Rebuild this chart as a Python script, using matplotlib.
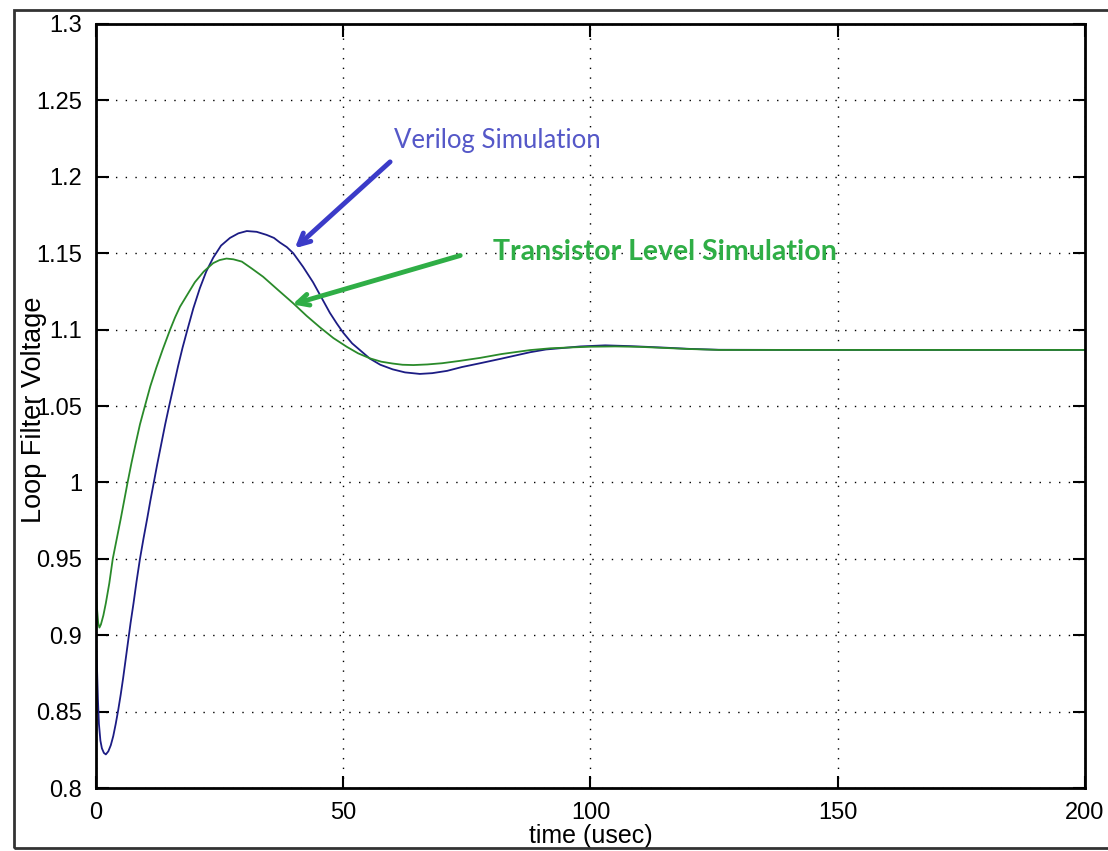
import matplotlib
matplotlib.use("Agg")
import matplotlib.pyplot as plt
from matplotlib.patches import Rectangle

# Verilog simulation
t_verilog = [0, 0.2, 0.4, 0.6, 0.9, 1.2, 1.6, 2.0, 2.5, 3.0, 3.5, 4.0, 4.5, 5.0,
             5.5, 6.0, 6.5, 7.0, 7.6, 8.2, 8.9, 9.6, 10.4, 11.0, 11.7, 12.4, 13.2,
             14.0, 14.8, 15.7, 16.6, 17.5, 18.5, 19.7, 21.0, 22.3, 23.7, 25.3, 27.1,
             28.8, 30.5, 32.5, 34.5, 36.0, 37.2, 38.6, 39.9, 41.9, 43.9, 45.6, 47.3,
             48.7, 50.0, 51.8, 53.6, 55.4, 57.5, 60.0, 62.5, 65.5, 68.0, 71.0, 74.0,
             77.7, 82.0, 87.8, 91.0, 94.5, 98.0, 103.0, 108.0, 115.0, 120.0, 126.0,
             140.0, 200.0]
v_verilog = [0.900, 0.880, 0.858, 0.842, 0.831, 0.826, 0.823, 0.822, 0.824, 0.828,
             0.834, 0.842, 0.851, 0.861, 0.872, 0.884, 0.896, 0.908, 0.921, 0.935,
             0.950, 0.963, 0.977, 0.988, 1.000, 1.012, 1.025, 1.038, 1.050, 1.063,
             1.076, 1.088, 1.100, 1.114, 1.127, 1.138, 1.147, 1.155, 1.160, 1.163,
             1.1645, 1.164, 1.162, 1.160, 1.157, 1.154, 1.150, 1.141, 1.131, 1.121,
             1.111, 1.104, 1.098, 1.091, 1.086, 1.081, 1.077, 1.074, 1.072, 1.071,
             1.0715, 1.073, 1.0755, 1.078, 1.081, 1.0852, 1.087, 1.088, 1.089,
             1.0897, 1.0892, 1.0882, 1.0874, 1.0868, 1.0867, 1.0867]

# Transistor level simulation
t_transistor = [0, 0.2, 0.45, 0.7, 1.0, 1.5, 2.0, 2.7, 3.4, 4.2, 5.0, 5.7, 6.4, 7.2,
                8.0, 8.9, 9.9, 11.0, 12.2, 13.5, 15.0, 16.0, 17.0, 18.5, 20.0, 21.8,
                23.7, 25.0, 26.4, 27.8, 29.5, 31.5, 33.8, 36.8, 39.9, 42.6, 45.3,
                48.0, 50.7, 53.0, 55.4, 57.7, 60.0, 62.0, 64.2, 67.0, 70.0, 73.5,
                77.7, 82.0, 87.8, 92.0, 96.5, 100.0, 105.0, 110.0, 115.0, 120.0,
                126.0, 140.0, 200.0]
v_transistor = [0.931, 0.918, 0.908, 0.905, 0.907, 0.913, 0.921, 0.934, 0.950, 0.963,
                0.976, 0.988, 1.000, 1.013, 1.025, 1.038, 1.050, 1.063, 1.075, 1.087,
                1.100, 1.108, 1.115, 1.123, 1.131, 1.138, 1.1435, 1.1455, 1.1465,
                1.146, 1.1445, 1.140, 1.1346, 1.126, 1.1172, 1.109, 1.1015, 1.0945,
                1.0888, 1.0845, 1.0812, 1.079, 1.0778, 1.077, 1.0768, 1.0772, 1.078,
                1.0795, 1.0815, 1.084, 1.0866, 1.0878, 1.0884, 1.0888, 1.0890,
                1.0887, 1.0880, 1.0873, 1.0867, 1.0867, 1.0867]

x_ticks = [0, 50, 100, 150, 200]
y_ticks = [0.8, 0.85, 0.9, 0.95, 1.0, 1.05, 1.1, 1.15, 1.2, 1.25, 1.3]
y_labels = ['0.8', '0.85', '0.9', '0.95', '1', '1.05', '1.1', '1.15', '1.2', '1.25', '1.3']

plt.rcParams['font.family'] = ['Liberation Sans', 'DejaVu Sans']

fig = plt.figure(figsize=(11.08, 8.51), dpi=100)
ax = fig.add_axes([0.0866, 0.0740, 0.8926, 0.8978])

# outer frame of the screenshot
fig.patches.append(Rectangle((14 / 1108, 3 / 851), 1.2, 838 / 851, transform=fig.transFigure,
                             fill=False, edgecolor='#333333', linewidth=2, zorder=0))

ax.plot(t_verilog, v_verilog, color='#1c1c84', linewidth=1.3)
ax.plot(t_transistor, v_transistor, color='#2a8a2a', linewidth=1.3)

ax.set_xlim(0, 200)
ax.set_ylim(0.8, 1.3)
ax.set_xticks(x_ticks)
ax.set_yticks(y_ticks)
ax.set_yticklabels(y_labels)
ax.grid(True, color='black', linestyle=(0, (1, 6)), linewidth=1.0)
ax.tick_params(direction='in', length=9, width=1.5, labelsize=17, pad=10,
               top=True, right=True)
for s in ax.spines.values():
    s.set_linewidth(2)

ax.set_xlabel('time (usec)', fontsize=18, labelpad=0)
ax.xaxis.set_label_coords(0.5, -0.047)
ax.set_ylabel('Loop Filter Voltage', fontsize=19.5)
ax.yaxis.set_label_coords(-0.050, 0.495)

# hand-drawn style annotations
ax.annotate('', xy=(39.8, 1.152), xytext=(59.9, 1.211),
            arrowprops=dict(arrowstyle='->,head_length=0.8,head_width=0.4',
                            color='#3b3bc8', linewidth=3.5))
ax.text(60.3, 1.224, 'Verilog Simulation', color='#5558c8', fontsize=18.5,
        family=['Lato', 'DejaVu Sans'], va='center', ha='left')
ax.annotate('', xy=(39.2, 1.116), xytext=(74.2, 1.149),
            arrowprops=dict(arrowstyle='->,head_length=0.8,head_width=0.4',
                            color='#2fae46', linewidth=3.5))
ax.text(80.3, 1.1505, 'Transistor Level Simulation', color='#2fae46', fontsize=20.5,
        fontweight='bold', family=['Lato', 'DejaVu Sans'], va='center', ha='left')

fig.savefig('out.png', dpi=100)
